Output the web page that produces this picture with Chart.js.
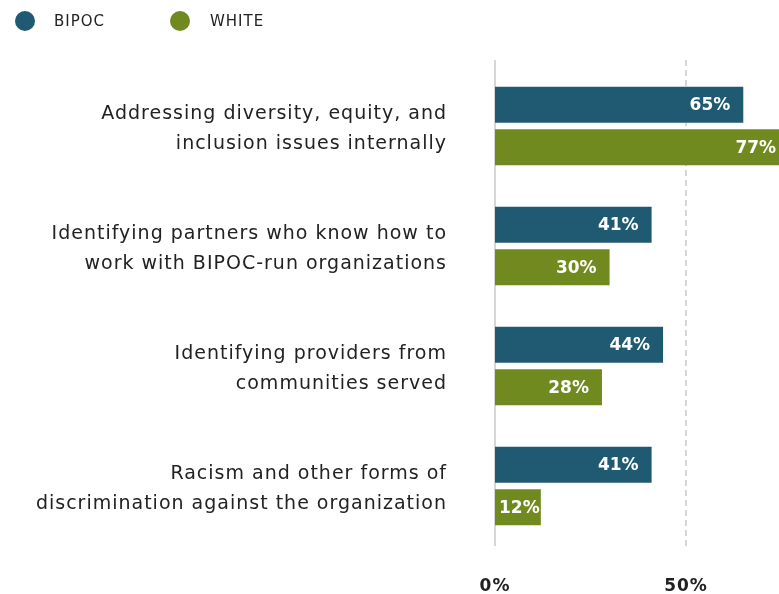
<!DOCTYPE html>
<html>
<head>
<meta charset="utf-8">
<script src="https://cdn.jsdelivr.net/npm/chart.js@4"></script>
<style>
  html, body { margin: 0; padding: 0; background: #ffffff; }
  #wrap { width: 779px; height: 594px; position: relative; }
</style>
</head>
<body>
<div id="wrap"><canvas id="c" width="779" height="594"></canvas></div>
<script>
const categories = [
  ["Addressing diversity, equity, and", "inclusion issues internally"],
  ["Identifying partners who know how to", "work with BIPOC-run organizations"],
  ["Identifying providers from", "communities served"],
  ["Racism and other forms of", "discrimination against the organization"]
];
const seriesNames = ["BIPOC", "WHITE"];
const bipocValues = [65, 41, 44, 41];
const whiteValues = [77, 30, 28, 12];
const xTicks = [0, 50];
const dashedTicks = [50];
const colors = ["#1f5a72", "#718a20"];
const FONT = "'DejaVu Sans', sans-serif";

const labelPlugin = {
  id: 'barLabels',
  beforeDraw(chart) {
    try { chart.ctx.letterSpacing = "1px"; } catch (e) {}
  },
  beforeDatasetsDraw(chart) {
    const ctx = chart.ctx;
    const area = chart.chartArea;
    const xs = chart.scales.x;
    ctx.save();
    ctx.strokeStyle = '#d6d6d6';
    ctx.lineWidth = 2;
    xTicks.forEach(v => {
      const px = Math.round(xs.getPixelForValue(v));
      ctx.setLineDash(dashedTicks.includes(v) ? [6, 4] : []);
      ctx.beginPath();
      ctx.moveTo(px, area.top - 6);
      ctx.lineTo(px, area.bottom);
      ctx.stroke();
    });
    ctx.restore();
  },
  afterDatasetsDraw(chart) {
    const ctx = chart.ctx;
    ctx.save();
    try { ctx.letterSpacing = "0px"; } catch (e) {}
    ctx.font = "bold 17px " + FONT;
    ctx.fillStyle = "#ffffff";
    ctx.textBaseline = "middle";
    ctx.textAlign = "left";
    chart.data.datasets.forEach((ds, di) => {
      const meta = chart.getDatasetMeta(di);
      meta.data.forEach((bar, i) => {
        const txt = ds.data[i] + "%";
        const w = ctx.measureText(txt).width;
        let x = bar.x - 13 - w;
        if (x < bar.base + 4) x = bar.base + 4;
        ctx.fillText(txt, x, bar.y + 1);
      });
    });
    ctx.restore();
  },
  afterDraw(chart) {
    const ctx = chart.ctx;
    ctx.save();
    ctx.font = "15px " + FONT;
    ctx.textBaseline = "middle";
    try { ctx.letterSpacing = "1px"; } catch (e) {}
    const pos = [[25, 54], [180, 210]];
    chart.data.datasets.forEach((ds, di) => {
      ctx.fillStyle = ds.backgroundColor;
      ctx.beginPath();
      ctx.arc(pos[di][0], 21, 10, 0, Math.PI * 2);
      ctx.fill();
      ctx.fillStyle = "#222222";
      ctx.textAlign = "left";
      ctx.fillText(ds.label, pos[di][1], 22);
    });
    ctx.restore();
  }
};

new Chart(document.getElementById('c'), {
  type: 'bar',
  data: {
    labels: categories,
    datasets: [
      { label: seriesNames[0], data: bipocValues, backgroundColor: colors[0] },
      { label: seriesNames[1], data: whiteValues, backgroundColor: colors[1] }
    ]
  },
  options: {
    indexAxis: 'y',
    responsive: false,
    animation: false,
    devicePixelRatio: 1,
    layout: { padding: { top: 66, right: 0, left: 0, bottom: 0 } },
    datasets: { bar: { categoryPercentage: 0.708, barPercentage: 0.85 } },
    plugins: { legend: { display: false }, tooltip: { enabled: false } },
    scales: {
      x: {
        min: 0, max: 74.35,
        afterBuildTicks(scale) { scale.ticks = xTicks.map(v => ({ value: v })); },
        afterFit(scale) { scale.height = 48; scale.paddingLeft = 0; scale.paddingRight = 0; },
        border: { display: false },
        grid: { display: false, drawTicks: false },
        ticks: {
          padding: 30,
          color: '#222222',
          font: { family: FONT, size: 17, weight: '600' },
          callback: (v) => v + '%'
        }
      },
      y: {
        afterFit(scale) { scale.width = 495; scale.paddingTop = 0; scale.paddingBottom = 0; },
        border: { display: false },
        grid: { display: false, drawTicks: false },
        ticks: {
          padding: 48,
          labelOffset: 3,
          color: '#222222',
          font: { family: FONT, size: 19, lineHeight: 1.58 }
        }
      }
    }
  },
  plugins: [labelPlugin]
});
</script>
</body>
</html>
